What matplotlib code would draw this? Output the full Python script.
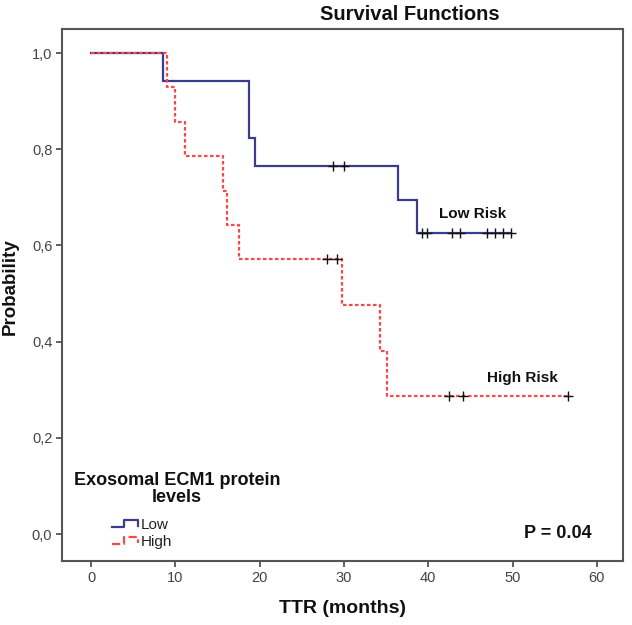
import numpy as np
import matplotlib
matplotlib.use("Agg")
import matplotlib.pyplot as plt
from matplotlib.lines import Line2D
from matplotlib.legend_handler import HandlerBase

plt.rcParams['font.family'] = ['Liberation Sans', 'DejaVu Sans']

# ---- data ----
low_times = [0, 8.5, 18.7, 19.4, 36.4, 38.7, 49.8]
low_surv = [1.0, 0.941, 0.824, 0.765, 0.695, 0.626, 0.626]
low_censor = [28.7, 30.0, 39.3, 39.8, 42.8, 43.8, 47.0, 47.9, 48.9, 49.8]

high_times = [0, 9.0, 10.0, 11.2, 15.7, 16.1, 17.6, 29.8, 34.3, 35.1, 56.6]
high_surv = [1.0, 0.929, 0.857, 0.786, 0.714, 0.643, 0.571, 0.476, 0.381, 0.286, 0.286]
high_censor = [28.0, 29.2, 42.5, 44.1, 56.6]

x_ticks = [0, 10, 20, 30, 40, 50, 60]
y_ticks = [0.0, 0.2, 0.4, 0.6, 0.8, 1.0]
y_ticklabels = ['0,0', '0,2', '0,4', '0,6', '0,8', '1,0']

group_labels = ['Low', 'High']
legend_title = 'Exosomal ECM1 protein\nlevels'
p_text = 'P = 0.04'

BLUE = '#3b3b8f'
RED = '#f54a4a'
SPINE = '#555555'


def surv_at(times, surv, t):
    idx = np.searchsorted(times, t, side='right') - 1
    return np.asarray(surv)[idx]


fig = plt.figure(figsize=(6.32, 6.25), dpi=100)
ax = fig.add_axes([62 / 632, 1 - 561 / 625, (623 - 62) / 632, (561 - 29) / 625])

ax.step(low_times, low_surv, where='post', color=BLUE, lw=1.6, solid_joinstyle='miter')
ax.step(high_times, high_surv, where='post', color=RED, lw=1.6, linestyle=(0, (1.6, 1.1)))

ax.plot(low_censor, surv_at(low_times, low_surv, low_censor), '+', color='#111111',
        ms=7, mew=1.0, linestyle='none')
ax.plot(high_censor, surv_at(high_times, high_surv, high_censor), '+', color='#111111',
        ms=7, mew=1.0, linestyle='none')

ax.set_xlim(-3.44, 63.1)
ax.set_ylim(-0.056, 1.05)
ax.set_xticks(x_ticks)
ax.set_yticks(y_ticks)
ax.set_yticklabels(y_ticklabels)
ax.tick_params(direction='out', length=4.5, width=1.3, color=SPINE, labelsize=10.5,
               labelcolor='#444444', pad=2.5)
for s in ax.spines.values():
    s.set_color(SPINE)
    s.set_linewidth(1.5)

ax.set_xlabel('TTR (months)', fontsize=14, fontweight='bold', color='#111111', labelpad=11)
ax.set_ylabel('Probability', fontsize=13.5, fontweight='bold', color='#111111')
ax.yaxis.set_label_coords(-0.092, 0.515)
ax.yaxis.label.set_va('center')

fig.text(410 / 632, 1 - 15 / 625, 'Survival Functions', ha='center', va='center',
         fontsize=14.5, fontweight='bold', color='#111111')

ax.text(45.3, 0.665, 'Low Risk', ha='center', va='center', fontsize=11,
        fontweight='bold', color='#111111')
ax.text(51.2, 0.324, 'High Risk', ha='center', va='center', fontsize=11,
        fontweight='bold', color='#111111')
ax.text(55.4, 0.002, p_text, ha='center', va='center', fontsize=13,
        fontweight='bold', color='#111111')

ax.text(10.2, 0.094, legend_title, ha='center', va='center', multialignment='center',
        fontsize=13, fontweight='bold', color='#111111', linespacing=1.0)


class StepHandler(HandlerBase):
    def create_artists(self, legend, orig_handle, xdescent, ydescent, width, height,
                       fontsize, trans):
        x0 = -xdescent
        y0 = -ydescent
        xs = [x0, x0 + 0.45 * width, x0 + 0.45 * width, x0 + 0.97 * width, x0 + 0.97 * width]
        ys = [y0 + 0.15 * height, y0 + 0.15 * height, y0 + 0.85 * height,
              y0 + 0.85 * height, y0 + 0.3 * height]
        ln = Line2D(xs, ys, color=orig_handle.get_color(), lw=orig_handle.get_linewidth(),
                    linestyle=orig_handle.get_linestyle())
        ln.set_transform(trans)
        return [ln]


h_low = Line2D([], [], color=BLUE, lw=1.6)
h_high = Line2D([], [], color=RED, lw=1.6, linestyle=(0, (1.6, 1.1)))
leg = ax.legend([h_low, h_high], group_labels,
                handler_map={Line2D: StepHandler()},
                loc='upper left', frameon=False, fontsize=11,
                handlelength=1.75, handletextpad=0.15, labelspacing=0.2,
                borderpad=0, borderaxespad=0, handleheight=0.7)
leg.set_bbox_to_anchor((112 / 632, 1 - 518 / 625), transform=fig.transFigure)
for t in leg.get_texts():
    t.set_color('#222222')

fig.savefig('out.png', dpi=100)
